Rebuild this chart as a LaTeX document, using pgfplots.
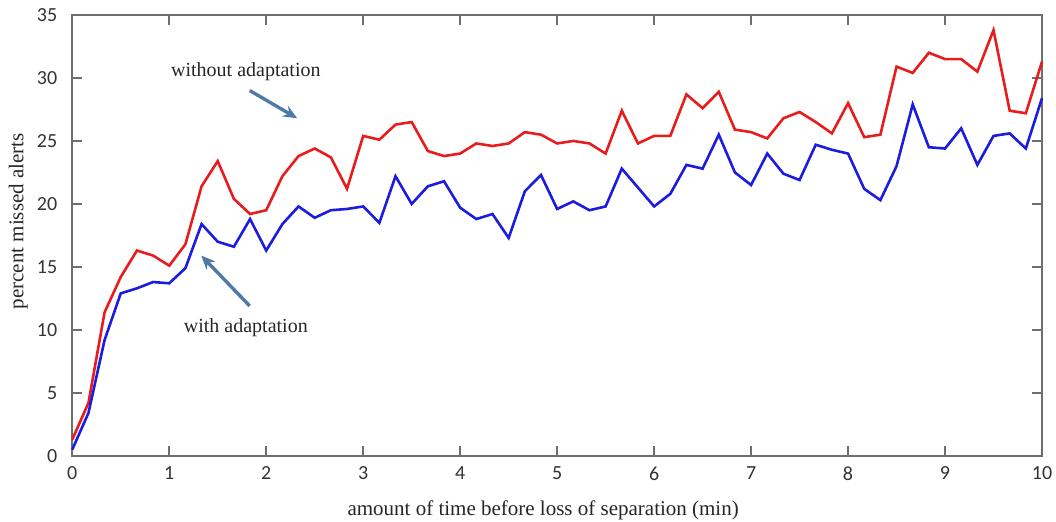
\documentclass[border=0pt]{standalone}
\usepackage{pgfplots}
\pgfplotsset{compat=1.18}
\usepackage{fontspec}
\setmainfont{Liberation Serif}
\newfontfamily\timesfont{Liberation Serif}
\newfontfamily\calib{Carlito}
\usetikzlibrary{arrows.meta}

\definecolor{lineRed}{RGB}{232,28,28}
\definecolor{lineBlue}{RGB}{28,28,225}
\definecolor{arrowBlue}{RGB}{78,122,168}
\definecolor{frameGray}{RGB}{110,110,110}

% Percent of missed alerts, sampled every 10 s (1/6 min)
\pgfplotstableread{
t     without  with
0.0000  1.3   0.5
0.1667  4.2   3.4
0.3333 11.4   9.2
0.5000 14.2  12.9
0.6667 16.3  13.3
0.8333 15.9  13.8
1.0000 15.1  13.7
1.1667 16.8  14.9
1.3333 21.4  18.4
1.5000 23.4  17.0
1.6667 20.4  16.6
1.8333 19.2  18.8
2.0000 19.5  16.3
2.1667 22.2  18.4
2.3333 23.8  19.8
2.5000 24.4  18.9
2.6667 23.7  19.5
2.8333 21.2  19.6
3.0000 25.4  19.8
3.1667 25.1  18.5
3.3333 26.3  22.2
3.5000 26.5  20.0
3.6667 24.2  21.4
3.8333 23.8  21.8
4.0000 24.0  19.7
4.1667 24.8  18.8
4.3333 24.6  19.2
4.5000 24.8  17.3
4.6667 25.7  21.0
4.8333 25.5  22.3
5.0000 24.8  19.6
5.1667 25.0  20.2
5.3333 24.8  19.5
5.5000 24.0  19.8
5.6667 27.4  22.8
5.8333 24.8  21.3
6.0000 25.4  19.8
6.1667 25.4  20.8
6.3333 28.7  23.1
6.5000 27.6  22.8
6.6667 28.9  25.5
6.8333 25.9  22.5
7.0000 25.7  21.5
7.1667 25.2  24.0
7.3333 26.8  22.4
7.5000 27.3  21.9
7.6667 26.5  24.7
7.8333 25.6  24.3
8.0000 28.0  24.0
8.1667 25.3  21.2
8.3333 25.5  20.3
8.5000 30.9  23.0
8.6667 30.4  27.9
8.8333 32.0  24.5
9.0000 31.5  24.4
9.1667 31.5  26.0
9.3333 30.5  23.1
9.5000 33.8  25.4
9.6667 27.4  25.6
9.8333 27.2  24.4
10.000 31.3  28.4
}\alerts

\begin{document}
\begin{tikzpicture}
\begin{axis}[
  name=ax,
  scale only axis,
  width=485pt, height=220.5pt,
  xmin=0, xmax=10, ymin=0, ymax=35,
  xtick={0,1,...,10},
  ytick={0,5,...,35},
  tick align=inside,
  major tick length=5pt,
  axis line style={frameGray, line width=1pt},
  every tick/.style={frameGray, line width=1pt},
  /pgf/number format/assume math mode=true,
  tick label style={font=\calib\fontsize{10}{12}\selectfont, text=black!80},
  xticklabel style={yshift=-2pt},
  yticklabel style={xshift=-4pt},
  xlabel={amount of time before loss of separation (min)},
  ylabel={percent missed alerts},
  label style={font=\timesfont\fontsize{10.5}{12}\selectfont, text=black!85},
  xlabel style={at={(axis description cs:0.4856,0)}, anchor=center, yshift=-27pt},
  ylabel style={at={(axis description cs:0,0.532)}, anchor=center, yshift=27pt},
  clip=false,
]
\addplot[lineRed, line width=1.3pt] table[x=t, y=without] {\alerts};
\addplot[lineBlue, line width=1.3pt] table[x=t, y=with] {\alerts};

\node[font=\timesfont\fontsize{10}{12}\selectfont, text=black!85] at (axis cs:1.79,30.5) {without adaptation};
\draw[arrowBlue, line width=1.7pt, -{Stealth[length=7pt,width=6pt]}] (axis cs:1.83,29.0) -- (axis cs:2.32,26.8);
\node[font=\timesfont\fontsize{10}{12}\selectfont, text=black!85] at (axis cs:1.79,10.2) {with adaptation};
\draw[arrowBlue, line width=1.7pt, -{Stealth[length=7pt,width=6pt]}] (axis cs:1.83,11.9) -- (axis cs:1.33,15.9);
\end{axis}
\pgfresetboundingbox
\path ([shift={(-36.15pt,-33pt)}]ax.south west) rectangle ([shift={(7pt,7.5pt)}]ax.north east);
\end{tikzpicture}
\end{document}
